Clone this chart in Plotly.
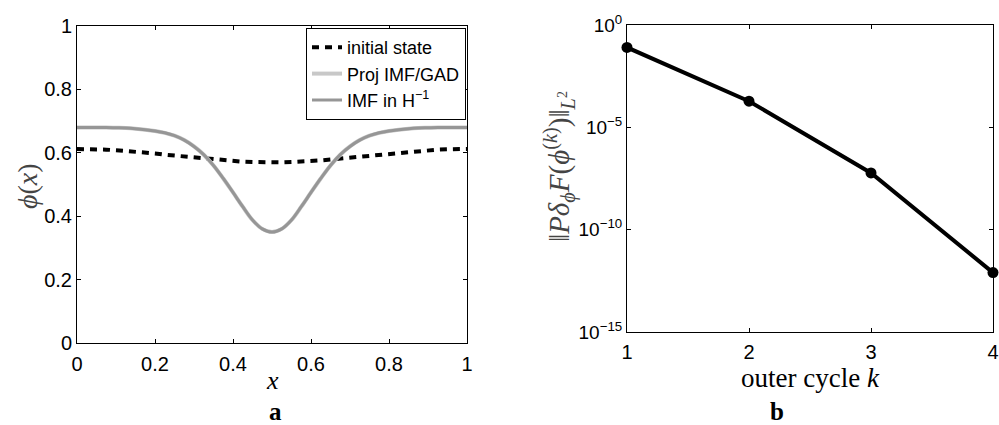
import plotly.graph_objects as go

# ---- data: panel a ----
x_vals = [0.000, 0.025, 0.050, 0.075, 0.100, 0.125, 0.150, 0.175, 0.200, 0.225,
          0.250, 0.275, 0.300, 0.325, 0.350, 0.375, 0.400, 0.425, 0.450, 0.475,
          0.500, 0.525, 0.550, 0.575, 0.600, 0.625, 0.650, 0.675, 0.700, 0.725,
          0.750, 0.775, 0.800, 0.825, 0.850, 0.875, 0.900, 0.925, 0.950, 0.975, 1.000]
initial_state = [0.612, 0.612, 0.611, 0.610, 0.608, 0.606, 0.603, 0.601, 0.598, 0.594,
                 0.591, 0.588, 0.585, 0.582, 0.579, 0.576, 0.574, 0.572, 0.571, 0.570,
                 0.570, 0.570, 0.571, 0.572, 0.574, 0.576, 0.579, 0.582, 0.585, 0.588,
                 0.591, 0.594, 0.598, 0.601, 0.603, 0.606, 0.608, 0.610, 0.611, 0.612, 0.612]
proj_imf_gad = [0.680, 0.680, 0.680, 0.680, 0.679, 0.678, 0.676, 0.673, 0.669, 0.663,
                0.654, 0.640, 0.620, 0.594, 0.560, 0.519, 0.475, 0.430, 0.388, 0.360,
                0.350, 0.360, 0.388, 0.430, 0.475, 0.519, 0.560, 0.594, 0.620, 0.640,
                0.654, 0.663, 0.669, 0.673, 0.676, 0.678, 0.679, 0.680, 0.680, 0.680, 0.680]
imf_h1 = [0.680, 0.680, 0.680, 0.680, 0.679, 0.678, 0.676, 0.673, 0.669, 0.663,
          0.654, 0.640, 0.620, 0.594, 0.560, 0.519, 0.475, 0.430, 0.388, 0.360,
          0.350, 0.360, 0.388, 0.430, 0.475, 0.519, 0.560, 0.594, 0.620, 0.640,
          0.654, 0.663, 0.669, 0.673, 0.676, 0.678, 0.679, 0.680, 0.680, 0.680, 0.680]
xticks_a = [0, 0.2, 0.4, 0.6, 0.8, 1]
xtick_text_a = ["0", "0.2", "0.4", "0.6", "0.8", "1"]
yticks_a = [0, 0.2, 0.4, 0.6, 0.8, 1]
ytick_text_a = ["0", "0.2", "0.4", "0.6", "0.8", "1"]

# ---- data: panel b ----
cycles = [1, 2, 3, 4]
residual = [8.0e-2, 1.9e-4, 5.9e-8, 8.0e-13]
yticks_b = [1e0, 1e-5, 1e-10, 1e-15]
ytick_text_b = ["10<sup>0</sup>", "10<sup>−5</sup>", "10<sup>−10</sup>", "10<sup>−15</sup>"]
xticks_b = [1, 2, 3, 4]

SANS = "Liberation Sans, Arial, sans-serif"
SERIF = "Liberation Serif, Times New Roman, serif"

fig = go.Figure()
fig.add_trace(go.Scatter(x=x_vals, y=initial_state, mode="lines", name="initial state",
                         line=dict(color="black", width=4, dash="7px,6px"),
                         xaxis="x", yaxis="y"))
fig.add_trace(go.Scatter(x=x_vals, y=proj_imf_gad, mode="lines", name="Proj IMF/GAD",
                         line=dict(color="#c8c8c8", width=4, shape="spline"),
                         xaxis="x", yaxis="y"))
fig.add_trace(go.Scatter(x=x_vals, y=imf_h1, mode="lines", name="IMF in H<sup>−1</sup>",
                         line=dict(color="#969696", width=3, shape="spline"),
                         xaxis="x", yaxis="y"))
fig.add_trace(go.Scatter(x=cycles, y=residual, mode="lines+markers", showlegend=False,
                         line=dict(color="black", width=4),
                         marker=dict(color="black", size=11),
                         cliponaxis=False, xaxis="x2", yaxis="y2"))

def axis_common(size, standoff=0):
    d = dict(showline=True, linecolor="black", linewidth=1, mirror="ticks",
             ticks="inside", ticklen=4, tickcolor="black", showgrid=False,
             zeroline=False, automargin=False,
             tickfont=dict(family=SANS, size=size, color="black"))
    if standoff:
        d["ticklabelstandoff"] = standoff
    return d

fig.update_layout(
    width=999, height=425,
    margin=dict(l=0, r=0, t=0, b=0),
    paper_bgcolor="white", plot_bgcolor="white",
    xaxis=dict(domain=[77/999, 467/999], range=[0, 1], tickvals=xticks_a,
               ticktext=xtick_text_a, anchor="y", **axis_common(20, 3)),
    yaxis=dict(domain=[1-343/425, 1-26/425], range=[0, 1], tickvals=yticks_a,
               ticktext=ytick_text_a, anchor="x", **axis_common(20)),
    xaxis2=dict(domain=[627/999, 993/999], range=[1, 4], tickvals=xticks_b,
                anchor="y2", **axis_common(20, 2)),
    yaxis2=dict(domain=[1-332/425, 1-25/425], type="log", range=[-15, 0],
                tickvals=yticks_b, ticktext=ytick_text_b, anchor="x2", **axis_common(19)),
    legend=dict(x=466/999, xanchor="right", y=1-28/425, yanchor="top",
                bgcolor="white", bordercolor="black", borderwidth=1,
                font=dict(family=SANS, size=18, color="black"),
                tracegroupgap=0, itemwidth=30),
    showlegend=True,
)

ann = [
    dict(text="<i>x</i>", x=272/999, y=1-380/425, font=dict(family=SERIF, size=26)),
    dict(text="<b>a</b>", x=275/999, y=1-411/425, font=dict(family=SERIF, size=25)),
    dict(text="outer cycle <i>k</i>", x=810/999, y=1-378/425, font=dict(family=SERIF, size=27)),
    dict(text="<b>b</b>", x=777/999, y=1-411/425, font=dict(family=SERIF, size=25)),
    dict(text="<i>ϕ</i>(<i>x</i>)", x=27/999, y=1-186/425, textangle=-90,
         font=dict(family=SERIF, size=28, color="#444")),
    dict(text="‖<i>Pδ</i><sub><i>ϕ</i></sub><i>F</i>(<i>ϕ</i><sup>(<i>k</i>)</sup>)‖<sub><i>L</i><sup>2</sup></sub>",
         x=559/999, y=1-167/425, textangle=-90,
         font=dict(family=SERIF, size=29, color="#444")),
]
for a in ann:
    a.update(xref="paper", yref="paper", showarrow=False, xanchor="center", yanchor="middle")
    a["font"].setdefault("color", "black")
fig.update_layout(annotations=ann)

fig.write_html("out.html")
